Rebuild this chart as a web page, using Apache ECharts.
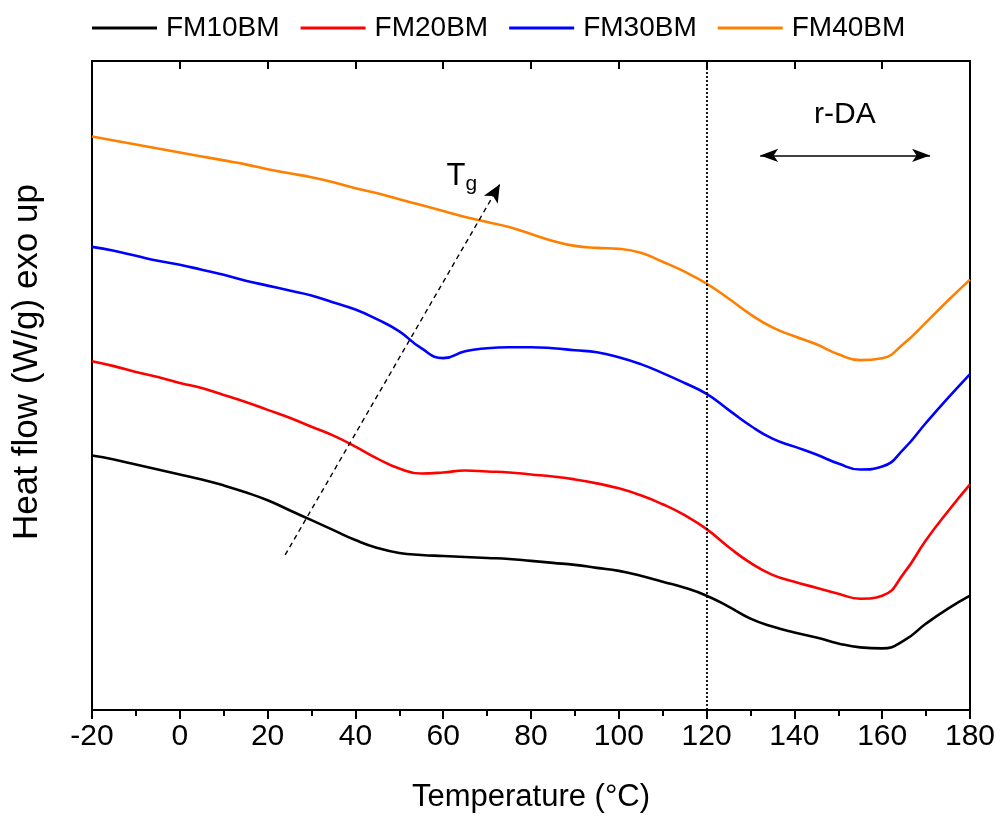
<!DOCTYPE html>
<html>
<head>
<meta charset="utf-8">
<script src="https://cdn.jsdelivr.net/npm/echarts@6/dist/echarts.min.js"></script>
<style>
  html, body { margin: 0; padding: 0; background: #fff; }
  #chart { width: 1000px; height: 818px; }
</style>
</head>
<body>
<div id="chart"></div>
<script>
// DSC heating scans: heat flow (curves offset vertically, exo up) vs temperature
const temperature = [-20, -15, -10, -5, 0, 5, 10, 15, 20, 25, 30, 35, 40, 45, 50, 55, 60, 65, 70, 75, 80, 85, 90, 95, 100, 105, 110, 115, 120, 125, 130, 135, 140, 145, 150, 155, 160, 165, 170, 175, 180];
const fm10bm = [2.56, 2.52, 2.47, 2.42, 2.37, 2.32, 2.26, 2.19, 2.11, 2.01, 1.91, 1.81, 1.71, 1.63, 1.58, 1.56, 1.55, 1.54, 1.53, 1.52, 1.50, 1.48, 1.46, 1.43, 1.40, 1.35, 1.29, 1.23, 1.15, 1.04, 0.92, 0.84, 0.78, 0.73, 0.67, 0.63, 0.62, 0.70, 0.87, 1.02, 1.15];
const fm20bm = [3.51, 3.46, 3.40, 3.35, 3.29, 3.24, 3.17, 3.10, 3.02, 2.94, 2.85, 2.76, 2.65, 2.53, 2.43, 2.38, 2.39, 2.41, 2.40, 2.39, 2.37, 2.35, 2.32, 2.28, 2.23, 2.16, 2.07, 1.96, 1.82, 1.64, 1.48, 1.36, 1.29, 1.23, 1.17, 1.12, 1.15, 1.38, 1.71, 2.00, 2.27];
const fm30bm = [4.66, 4.62, 4.57, 4.52, 4.48, 4.43, 4.38, 4.32, 4.27, 4.22, 4.17, 4.10, 4.03, 3.93, 3.81, 3.64, 3.54, 3.61, 3.64, 3.65, 3.65, 3.64, 3.62, 3.60, 3.55, 3.48, 3.39, 3.29, 3.18, 3.02, 2.86, 2.73, 2.65, 2.57, 2.48, 2.42, 2.45, 2.63, 2.89, 3.14, 3.38];
const fm40bm = [5.77, 5.73, 5.69, 5.65, 5.61, 5.57, 5.53, 5.49, 5.44, 5.40, 5.36, 5.31, 5.25, 5.20, 5.14, 5.08, 5.02, 4.96, 4.91, 4.86, 4.79, 4.72, 4.67, 4.65, 4.64, 4.60, 4.51, 4.41, 4.29, 4.14, 3.98, 3.85, 3.76, 3.68, 3.58, 3.52, 3.54, 3.69, 3.90, 4.12, 4.33];

const seriesNames = ['FM10BM', 'FM20BM', 'FM30BM', 'FM40BM'];
const seriesColors = ['#000000', '#ff0000', '#0000ff', '#ff8000'];
const seriesValues = [fm10bm, fm20bm, fm30bm, fm40bm];

// annotations, in data coordinates
const rdaTemp = 120;
const tgArrow = [[24, 1.56], [72.9, 5.29]];
const rdaArrow = [[132.2, 5.58], [170.9, 5.58]];
const tgLabelAt = [63.5, 5.32];
const rdaLabelAt = [151.5, 5.99];

const FONT = 'Liberation Sans, Arial, sans-serif';
const chart = echarts.init(document.getElementById('chart'), null, { renderer: 'canvas' });

const series = seriesNames.map((name, i) => ({
  name,
  type: 'line',
  data: temperature.map((t, k) => [t, seriesValues[i][k]]),
  smooth: 0.5,
  showSymbol: false,
  lineStyle: { color: seriesColors[i], width: 2.6 },
  itemStyle: { color: seriesColors[i] },
  z: 3
}));

// guide lines: r-DA onset, Tg trend arrow, r-DA range arrow
series.push({
  name: 'guides',
  type: 'line',
  data: [],
  silent: true,
  markLine: {
    silent: true,
    animation: false,
    label: { show: false },
    data: [
      [{ xAxis: rdaTemp, yAxis: 0, symbol: 'none', lineStyle: { type: [2, 2], width: 1.8, color: '#000' } },
       { xAxis: rdaTemp, yAxis: 6.53, symbol: 'none' }],
      [{ coord: tgArrow[0], symbol: 'none', lineStyle: { type: [5, 4], width: 1.4, color: '#000' } },
       { coord: tgArrow[1], symbol: 'arrow', symbolSize: [12, 18] }],
      [{ coord: rdaArrow[0], symbol: 'arrow', symbolSize: [10, 18], lineStyle: { type: 'solid', width: 1.6, color: '#000' } },
       { coord: rdaArrow[1], symbol: 'arrow', symbolSize: [10, 18] }]
    ]
  }
});

chart.setOption({
  animation: false,
  backgroundColor: '#fff',
  textStyle: { fontFamily: FONT },
  legend: {
    data: seriesNames,
    top: 9,
    left: 87,
    icon: 'rect',
    itemWidth: 65,
    itemHeight: 3,
    itemGap: 21,
    textStyle: { fontFamily: FONT, fontSize: 28, color: '#000', padding: [0, 0, 0, 4] }
  },
  grid: { left: 92, right: 30, top: 61, bottom: 104, containLabel: false },
  xAxis: [
    {
      type: 'value', min: -20, max: 180, interval: 20, position: 'bottom',
      name: 'Temperature (°C)', nameLocation: 'middle', nameGap: 72,
      nameTextStyle: { fontSize: 31, color: '#000', fontFamily: FONT },
      axisLine: { onZero: false, lineStyle: { color: '#000', width: 2 } },
      axisTick: { show: true, inside: false, length: 9, lineStyle: { width: 2, color: '#000' } },
      minorTick: { show: true, splitNumber: 2, length: 6, lineStyle: { width: 2, color: '#000' } },
      axisLabel: { fontSize: 30, color: '#000', margin: 12, fontFamily: FONT },
      splitLine: { show: false }
    },
    {
      type: 'value', min: -20, max: 180, interval: 20, position: 'top',
      axisLine: { onZero: false, lineStyle: { color: '#000', width: 2 } },
      axisTick: { show: true, inside: true, length: 8, lineStyle: { width: 2, color: '#000' } },
      axisLabel: { show: false },
      splitLine: { show: false }
    }
  ],
  yAxis: [
    {
      type: 'value', min: 0, max: 6.53, position: 'left',
      axisLine: { show: true, onZero: false, lineStyle: { color: '#000', width: 2 } },
      axisTick: { show: false },
      axisLabel: { show: false },
      splitLine: { show: false }
    },
    {
      type: 'value', min: 0, max: 6.53, position: 'right',
      axisLine: { show: true, onZero: false, lineStyle: { color: '#000', width: 2 } },
      axisTick: { show: false },
      axisLabel: { show: false },
      splitLine: { show: false }
    }
  ],
  series
});

// text annotations placed at data coordinates, plus the vertical axis title
const tgPx = chart.convertToPixel({ gridIndex: 0 }, tgLabelAt);
const rdaPx = chart.convertToPixel({ gridIndex: 0 }, rdaLabelAt);
chart.setOption({
  graphic: [
    {
      type: 'text', left: tgPx[0] - 12, top: tgPx[1] - 20, z: 10,
      style: {
        text: '{t|T}{s|g}',
        rich: {
          t: { fontSize: 31, fontFamily: FONT, fill: '#000' },
          s: { fontSize: 21, fontFamily: FONT, fill: '#000', padding: [14, 0, 0, 0] }
        }
      }
    },
    {
      type: 'text', x: rdaPx[0], y: rdaPx[1], z: 10,
      style: { text: 'r-DA', fontSize: 30, fontFamily: FONT, fill: '#000', align: 'center', verticalAlign: 'middle' }
    },
    {
      type: 'text', x: 27, y: 362, rotation: Math.PI / 2, z: 10,
      style: { text: 'Heat flow (W/g) exo up', fontSize: 35, fontFamily: FONT, fill: '#000', align: 'center', verticalAlign: 'middle' }
    }
  ]
});
</script>
</body>
</html>
